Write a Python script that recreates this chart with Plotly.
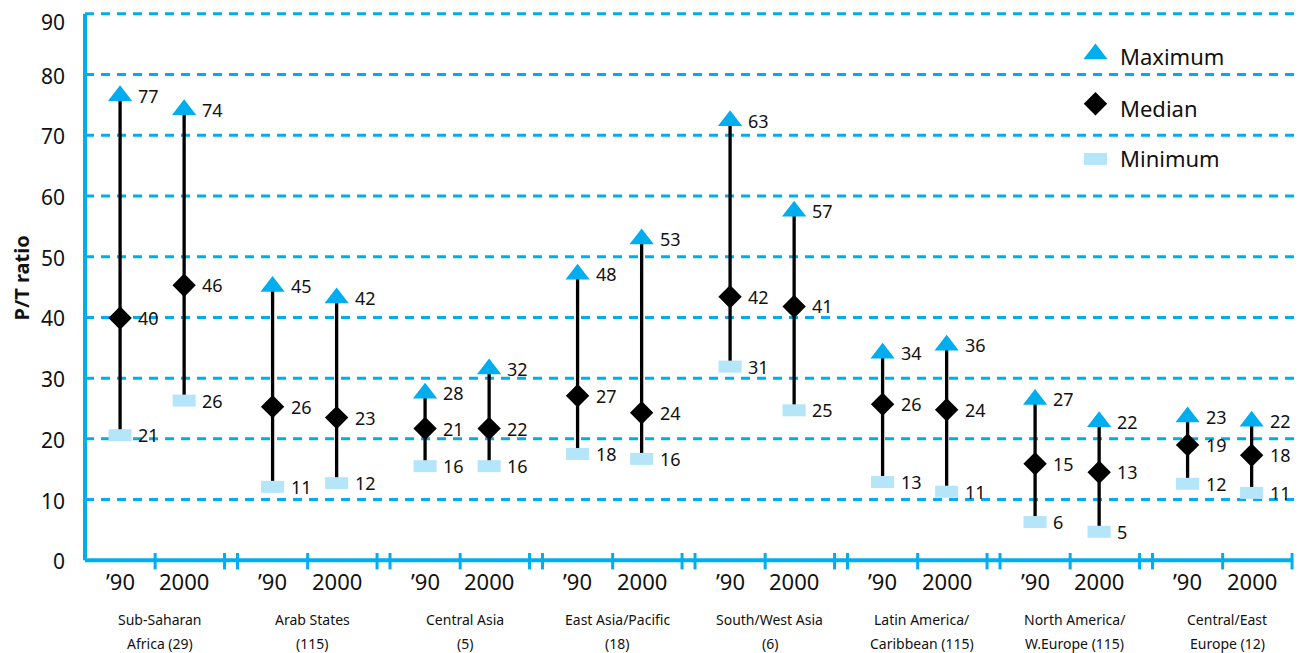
import plotly.graph_objects as go

# regions (two printed lines each) and the two survey years
region_line1 = ['Sub-Saharan', 'Arab States', 'Central Asia', 'East Asia/Pacific',
                'South/West Asia', 'Latin America/', 'North America/', 'Central/East']
region_line2 = ['Africa (29)', '(115)', '(5)', '(18)', '(6)',
                'Caribbean (115)', 'W.Europe (115)', 'Europe (12)']
years = ['\u201990', '2000']
y_ticks = list(range(0, 100, 10))

# printed numbers, region by region, '90 then 2000
max_labels    = [77, 74, 45, 42, 28, 32, 48, 53, 63, 57, 34, 36, 27, 22, 23, 22]
median_labels = [40, 46, 26, 23, 21, 22, 27, 24, 42, 41, 26, 24, 15, 13, 19, 18]
min_labels    = [21, 26, 11, 12, 16, 16, 18, 16, 31, 25, 13, 11, 6, 5, 12, 11]

# where the markers actually sit in the original (they drift a bit from the numbers)
max_pos    = [76.5, 74.2, 45.1, 43.2, 27.5, 31.5, 47.1, 52.9, 72.4, 57.5, 34.1, 35.4, 26.5, 22.8, 23.6, 22.9]
median_pos = [39.9, 45.3, 25.3, 23.5, 21.7, 21.7, 27.1, 24.3, 43.4, 41.8, 25.7, 24.8, 15.9, 14.5, 19.0, 17.3]
min_pos    = [20.6, 26.3, 12.1, 12.7, 15.5, 15.5, 17.5, 16.7, 31.9, 24.7, 12.9, 11.3, 6.3, 4.7, 12.6, 11.1]

BLUE  = '#00AEEF'
LIGHT = '#B5E5F8'
FONT  = 'Noto Sans'

# layout: each region occupies one x unit, points at fixed offsets inside it
YEAR_OFFSET = [0.23, 0.65]
MID_TICK    = 0.46
END_TICK    = 0.915
n_groups    = len(region_line1)

xs = [g + off for g in range(n_groups) for off in YEAR_OFFSET]

# the page body has an 8px margin, so the figure is 8px smaller than the window
BODY = 8
W, H = 1306 - BODY, 653 - BODY
# plot area in window pixels
PLOT_LEFT, PLOT_RIGHT = 80, 1298
PLOT_TOP, PLOT_BOTTOM = 12, 570
def py(pix):
    return (PLOT_BOTTOM - pix) / (PLOT_BOTTOM - PLOT_TOP)
def px_(pix):
    return (pix - PLOT_LEFT) / (PLOT_RIGHT - PLOT_LEFT)

MAX_MARK = dict(symbol='triangle-up', size=21, color=BLUE)
MED_MARK = dict(symbol='diamond', size=18, color='black')
MIN_MARK = dict(symbol='line-ew', size=16.5, color=LIGHT, line=dict(width=12, color=LIGHT))

fig = go.Figure()

# stems from min to max
stem_x, stem_y = [], []
for x, lo, hi in zip(xs, min_pos, max_pos):
    stem_x += [x, x, None]
    stem_y += [lo, hi, None]
fig.add_trace(go.Scatter(x=stem_x, y=stem_y, mode='lines',
                         line=dict(color='black', width=3.3), hoverinfo='skip'))

fig.add_trace(go.Scatter(x=xs, y=min_pos, mode='markers', name='Minimum', marker=MIN_MARK))
fig.add_trace(go.Scatter(x=xs, y=median_pos, mode='markers', name='Median', marker=MED_MARK))
fig.add_trace(go.Scatter(x=xs, y=max_pos, mode='markers', name='Maximum', marker=MAX_MARK))

# hand-built legend (keys drawn like the data markers)
LEGEND_X = 6.626
LEGEND_KEY_Y = [83.4, 75.2, 66.1]
LEGEND_TXT_Y = [83.1, 74.5, 66.3]
for mk, ky in zip([MAX_MARK, MED_MARK, MIN_MARK], LEGEND_KEY_Y):
    fig.add_trace(go.Scatter(x=[LEGEND_X], y=[ky], mode='markers', marker=mk, hoverinfo='skip'))

shapes = []
# dashed grid
for v in y_ticks[1:]:
    shapes.append(dict(type='line', xref='x', yref='y', x0=0, x1=7.95, y0=v, y1=v,
                       line=dict(color=BLUE, width=3, dash='9px,7px'), layer='below'))
# axis lines
shapes.append(dict(type='line', xref='x', yref='y', x0=0, x1=0, y0=0, y1=90,
                   line=dict(color=BLUE, width=4)))
shapes.append(dict(type='line', xref='x', yref='y', x0=0, x1=n_groups - 1 + END_TICK, y0=0, y1=0,
                   line=dict(color=BLUE, width=4)))
# x ticks: middle tick and double tick between regions
tick_x = []
for g in range(n_groups):
    tick_x += [g + MID_TICK, g + END_TICK]
    if g < n_groups - 1:
        tick_x.append(g + 1)
for tx in tick_x:
    shapes.append(dict(type='line', xref='x', yref='y', x0=tx, x1=tx, y0=1.2, y1=-1.5,
                       line=dict(color=BLUE, width=3)))

annotations = []
# y tick labels (top one sits a little below its gridline, as in the original)
for v in y_ticks:
    annotations.append(dict(x=px_(66), y=v, xref='paper', yref='y', text=str(v), showarrow=False,
                            xanchor='right', yanchor='middle', yshift=-8 if v == 90 else -1,
                            borderpad=0, font=dict(family=FONT, size=21, color='#111')))
# value labels
for x, yp, txt in zip(xs * 3, max_pos + median_pos + min_pos, max_labels + median_labels + min_labels):
    annotations.append(dict(x=x, y=yp, xref='x', yref='y', text=str(txt), showarrow=False,
                            xanchor='left', yanchor='middle', xshift=16,
                            font=dict(family=FONT, size=18, color='#111')))
# year labels
for i, x in enumerate(xs):
    annotations.append(dict(x=x, y=py(581), xref='x', yref='paper', text=years[i % 2],
                            showarrow=False, xanchor='center', yanchor='middle',
                            font=dict(family=FONT, size=22, color='#111')))
# region labels
for g in range(n_groups):
    for line_txt, row in ((region_line1[g], 619), (region_line2[g], 643)):
        annotations.append(dict(x=g + 0.49, y=py(row), xref='x', yref='paper', text=line_txt,
                                showarrow=False, xanchor='center', yanchor='middle',
                                font=dict(family=FONT, size=14, color='#111')))
# legend text
for name, yy in zip(['Maximum', 'Median', 'Minimum'], LEGEND_TXT_Y):
    annotations.append(dict(x=LEGEND_X, y=yy, xref='x', yref='y', text=name, showarrow=False,
                            xanchor='left', yanchor='middle', xshift=23,
                            font=dict(family=FONT, size=22, color='#111')))
# y title
annotations.append(dict(x=px_(21), y=py(277.5), xref='paper', yref='paper', text='<b>P/T ratio</b>',
                        showarrow=False, textangle=-90, xanchor='center', yanchor='middle',
                        font=dict(family=FONT, size=20, color='#111')))

fig.update_layout(
    template='none',
    width=W, height=H,
    margin=dict(l=PLOT_LEFT - BODY, r=1306 - PLOT_RIGHT, t=PLOT_TOP - BODY,
                b=653 - PLOT_BOTTOM, autoexpand=False),
    paper_bgcolor='white', plot_bgcolor='white',
    showlegend=False,
    xaxis=dict(range=[-0.0328, 7.954], visible=False, automargin=False),
    yaxis=dict(range=[-1.6, 90.3], visible=False, automargin=False),
    shapes=shapes,
    annotations=annotations,
)

fig.write_html('out.html')
